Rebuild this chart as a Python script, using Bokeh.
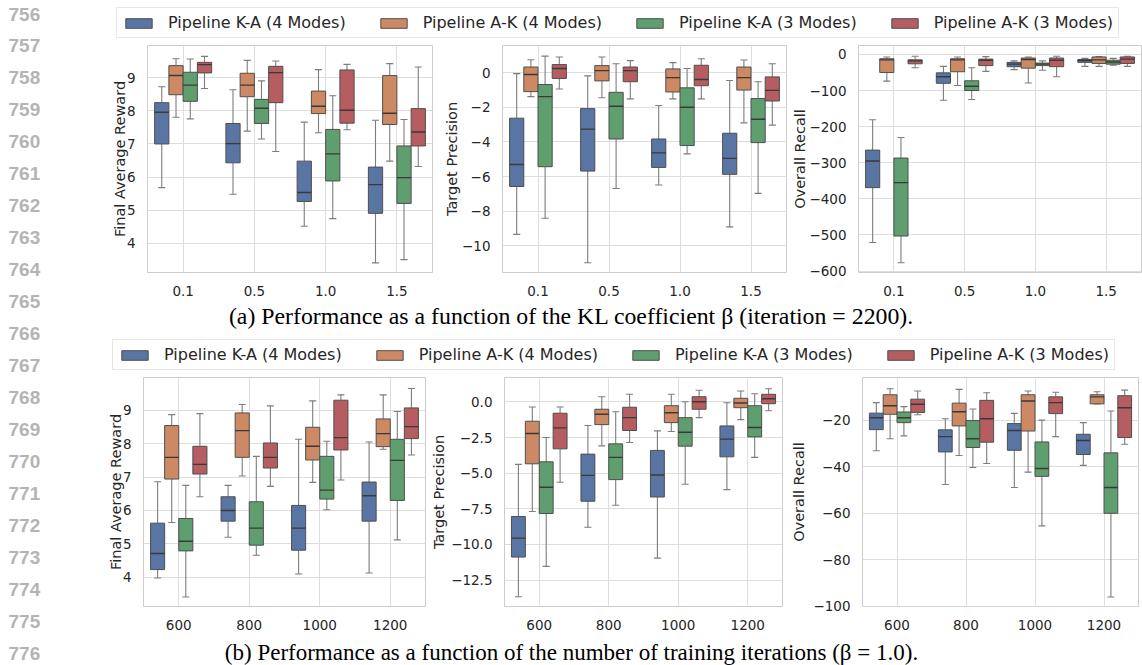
from bokeh.plotting import figure
from bokeh.models import Range1d, FixedTicker, Legend, LegendItem, ColumnDataSource
from bokeh.layouts import row, column
from bokeh.embed import file_html
from bokeh.resources import INLINE
from bokeh.core.properties import value

# ---------------- data ----------------
series = ["Pipeline K-A (4 Modes)", "Pipeline A-K (4 Modes)",
          "Pipeline K-A (3 Modes)", "Pipeline A-K (3 Modes)"]
colors = ["#5875A4", "#CC8963", "#5F9E6E", "#B55D60"]

beta_labels = ["0.1", "0.5", "1.0", "1.5"]
iter_labels = ["600", "800", "1000", "1200"]

# each group: [whisker_low, q1, median, q3, whisker_high]
# (a) Final Average Reward vs beta
rb_ka4 = [[5.68, 7.00, 7.96, 8.25, 8.73], [5.48, 6.43, 7.01, 7.62, 8.64], [4.51, 5.26, 5.53, 6.48, 7.66], [3.40, 4.90, 5.77, 6.30, 7.72]]
rb_ak4 = [[7.81, 8.49, 9.07, 9.37, 9.58], [7.39, 8.43, 8.78, 9.14, 9.53], [7.34, 7.92, 8.14, 8.60, 9.25], [6.48, 7.59, 7.93, 9.07, 9.43]]
rb_ka3 = [[7.76, 8.29, 8.78, 9.17, 9.57], [7.15, 7.62, 8.08, 8.35, 8.91], [4.74, 5.88, 6.70, 7.44, 8.46], [3.50, 5.20, 5.98, 6.94, 7.74]]
rb_ak3 = [[8.68, 9.15, 9.40, 9.47, 9.65], [6.77, 8.25, 9.16, 9.35, 9.51], [7.43, 7.63, 8.02, 9.24, 9.41], [6.32, 6.94, 7.36, 8.07, 9.33]]
# (a) Target Precision vs beta
pb_ka4 = [[-9.33, -6.57, -5.30, -2.63, -0.06], [-10.97, -5.68, -3.26, -2.08, -0.19], [-6.48, -5.47, -4.63, -3.83, -1.90], [-8.90, -5.87, -4.95, -3.50, -0.46]]
pb_ak4 = [[-1.39, -1.10, -0.11, 0.32, 0.74], [-1.45, -0.48, 0.11, 0.40, 0.90], [-1.52, -1.12, -0.29, 0.21, 0.57], [-2.90, -1.01, -0.29, 0.32, 0.72]]
pb_ka3 = [[-8.40, -5.43, -1.39, -0.69, 0.95], [-6.69, -3.83, -1.94, -1.14, 0.51], [-4.69, -4.21, -2.00, -0.88, 0.23], [-6.97, -4.04, -2.69, -1.50, -0.53]]
pb_ak3 = [[-0.95, -0.34, 0.23, 0.46, 0.90], [-1.52, -0.53, 0.11, 0.32, 0.69], [-1.52, -0.76, -0.40, 0.42, 0.80], [-3.03, -1.64, -1.03, -0.25, 0.51]]
# (a) Overall Recall vs beta
cb_ka4 = [[-521, -369, -295, -265, -181], [-127, -80, -62, -51, -33], [-42, -34, -27, -22, -18], [-33, -22, -17, -14, -11]]
cb_ak4 = [[-74, -50, -15, -12, -7], [-86, -48, -15, -12, -7], [-79, -38, -14, -10, -7], [-33, -25, -15, -7, -6]]
cb_ka3 = [[-577, -503, -355, -287, -230], [-125, -100, -88, -73, -37], [-44, -31, -27, -24, -18], [-30, -27, -21, -16, -11]]
cb_ak3 = [[-37, -26, -18, -15, -5], [-47, -31, -16, -13, -6], [-62, -34, -16, -10, -5], [-33, -25, -13, -7, -5]]

# (b) Final Average Reward vs iterations
ri_ka4 = [[3.98, 4.23, 4.71, 5.62, 6.86], [5.20, 5.68, 6.00, 6.41, 6.75], [4.10, 4.81, 5.47, 6.15, 8.13], [4.13, 5.68, 6.44, 6.85, 8.05]]
ri_ak4 = [[5.64, 6.94, 7.59, 8.54, 8.87], [7.03, 7.59, 8.39, 8.92, 9.17], [6.84, 7.51, 7.92, 8.49, 9.28], [7.83, 7.91, 8.30, 8.74, 9.46]]
ri_ka3 = [[3.41, 4.79, 5.08, 5.76, 6.75], [4.66, 4.96, 5.47, 6.26, 7.62], [6.02, 6.34, 6.61, 7.62, 8.07], [5.12, 6.30, 7.50, 8.13, 8.96]]
ri_ak3 = [[6.41, 7.09, 7.38, 7.92, 8.90], [6.72, 7.27, 7.59, 8.02, 9.13], [6.91, 7.81, 8.18, 9.30, 9.46], [7.66, 8.15, 8.51, 9.07, 9.65]]
# (b) Target Precision vs iterations
pi_ka4 = [[-13.68, -10.89, -9.56, -8.04, -4.38], [-8.79, -6.97, -5.15, -3.66, -1.65], [-10.96, -6.67, -5.13, -3.40, -2.03], [-6.15, -3.85, -2.61, -1.68, -0.05]]
pi_ak4 = [[-7.69, -4.34, -2.21, -1.35, -0.35], [-3.08, -1.59, -0.86, -0.51, 0.37], [-2.07, -1.45, -0.75, -0.26, 0.54], [-1.24, -0.40, -0.07, 0.26, 0.77]]
pi_ka3 = [[-11.54, -7.83, -5.99, -4.20, -2.49], [-7.25, -5.45, -3.89, -2.94, -0.68], [-5.78, -3.10, -2.12, -1.10, 0.02], [-3.89, -2.45, -1.79, -0.26, 0.58]]
pi_ak3 = [[-5.64, -3.29, -1.82, -0.79, -0.35], [-2.84, -2.00, -1.10, -0.37, 0.54], [-1.10, -0.51, 0.02, 0.37, 0.82], [-0.61, -0.12, 0.23, 0.54, 0.93]]
# (b) Overall Recall vs iterations
ci_ka4 = [[-33.1, -24.0, -18.9, -16.9, -12.4], [-47.6, -33.6, -27.0, -24.1, -19.3], [-48.9, -32.9, -24.4, -21.4, -17.0], [-39.4, -34.7, -28.7, -26.0, -21.0]]
ci_ak4 = [[-27.9, -17.4, -13.7, -9.0, -6.4], [-35.1, -22.4, -16.3, -12.6, -6.7], [-42.3, -24.6, -11.7, -9.0, -7.4], [-13.0, -12.9, -9.9, -9.0, -7.7]]
ci_ka3 = [[-26.7, -21.0, -18.9, -16.4, -14.1], [-40.3, -31.7, -27.9, -20.1, -15.1], [-65.4, -44.1, -40.7, -29.3, -19.9], [-96.0, -60.0, -48.9, -34.0, -16.0]]
ci_ak3 = [[-17.6, -16.6, -13.1, -10.9, -7.4], [-38.6, -29.4, -19.3, -11.4, -8.1], [-27.0, -17.1, -12.4, -9.9, -7.9], [-30.3, -27.4, -14.6, -9.4, -7.0]]

reward_ticks = [4, 5, 6, 7, 8, 9]
reward_tick_labels = ["4", "5", "6", "7", "8", "9"]
prec_beta_ticks = [-10, -8, -6, -4, -2, 0]
prec_beta_tick_labels = ["\u221210", "\u22128", "\u22126", "\u22124", "\u22122", "0"]
recall_beta_ticks = [-600, -500, -400, -300, -200, -100, 0]
recall_beta_tick_labels = ["\u2212600", "\u2212500", "\u2212400", "\u2212300", "\u2212200", "\u2212100", "0"]
prec_iter_ticks = [-12.5, -10.0, -7.5, -5.0, -2.5, 0.0]
prec_iter_tick_labels = ["\u221212.5", "\u221210.0", "\u22127.5", "\u22125.0", "\u22122.5", "0.0"]
recall_iter_ticks = [-100, -80, -60, -40, -20]
recall_iter_tick_labels = ["\u2212100", "\u221280", "\u221260", "\u221240", "\u221220"]

line_numbers = list(range(756, 777))
caption_a = "(a) Performance as a function of the KL coefficient \u03b2 (iteration = 2200)."
caption_b = "(b) Performance as a function of the number of training iterations (\u03b2 = 1.0)."

# ---------------- style ----------------
FONT = "DejaVu Sans"
TXT = "#262626"
EDGE = "#4f4f4f"
WHISK = "#7d7d7d"
GRID = "#dedede"
OFFSETS = [-0.3, -0.1, 0.1, 0.3]
BOXW = 0.2
CAPW = 0.05
LEFT = 100  # width of the line-number margin


def panel(stats_all, xlabels, yr, yticks, ylabels, ylabel, width, height, ml, mr, mt, mb, lab_off):
    p = figure(width=width, height=height, x_range=Range1d(-0.5, 3.5), y_range=Range1d(*yr),
               output_backend="svg", toolbar_location=None,
               min_border_left=ml, min_border_right=mr, min_border_top=mt, min_border_bottom=mb)
    for si, stats in enumerate(stats_all):
        xs = [gi + OFFSETS[si] for gi in range(len(stats))]
        src = ColumnDataSource(dict(
            x=xs,
            lo=[s[0] for s in stats], q1=[s[1] for s in stats], med=[s[2] for s in stats],
            q3=[s[3] for s in stats], hi=[s[4] for s in stats],
            xl=[x - BOXW / 2 for x in xs], xr=[x + BOXW / 2 for x in xs],
            cl=[x - CAPW for x in xs], cr=[x + CAPW for x in xs]))
        p.segment(x0="x", y0="lo", x1="x", y1="q1", source=src, line_color=WHISK, line_width=1.1)
        p.segment(x0="x", y0="q3", x1="x", y1="hi", source=src, line_color=WHISK, line_width=1.1)
        p.segment(x0="cl", y0="lo", x1="cr", y1="lo", source=src, line_color=WHISK, line_width=1.1)
        p.segment(x0="cl", y0="hi", x1="cr", y1="hi", source=src, line_color=WHISK, line_width=1.1)
        p.vbar(x="x", width=BOXW, bottom="q1", top="q3", source=src,
               fill_color=colors[si], line_color=EDGE, line_width=1)
        p.segment(x0="xl", y0="med", x1="xr", y1="med", source=src, line_color="#3a3a3a", line_width=1.4)

    p.xaxis.ticker = FixedTicker(ticks=list(range(len(xlabels))))
    p.xaxis.major_label_overrides = {i: lab for i, lab in enumerate(xlabels)}
    p.yaxis.ticker = FixedTicker(ticks=yticks)
    p.yaxis.major_label_overrides = {t: l for t, l in zip(yticks, ylabels)}
    p.xgrid.ticker = FixedTicker(ticks=list(range(len(xlabels))))
    p.ygrid.ticker = FixedTicker(ticks=yticks)
    p.grid.grid_line_color = GRID
    p.grid.grid_line_width = 1
    p.outline_line_color = "#cccccc"
    p.outline_line_width = 1
    for ax in p.axis:
        ax.axis_line_color = None
        ax.major_tick_line_color = None
        ax.minor_tick_line_color = None
        ax.major_label_text_font = FONT
        ax.major_label_text_font_size = "13.5px"
        ax.major_label_text_color = TXT
    p.xaxis.major_label_standoff = 7
    p.yaxis.major_label_standoff = 6
    p.yaxis.axis_label = ylabel
    p.yaxis.axis_label_text_font = FONT
    p.yaxis.axis_label_text_font_size = "14.5px"
    p.yaxis.axis_label_text_font_style = "normal"
    p.yaxis.axis_label_text_color = TXT
    p.yaxis.axis_label_standoff = lab_off
    return p


def legend_fig(height, loc):
    f = figure(width=1142 - LEFT, height=height, x_range=Range1d(0, 1), y_range=Range1d(0, 1),
               x_axis_location=None, y_axis_location=None, min_border=0,
               output_backend="svg", toolbar_location=None)
    f.outline_line_color = None
    f.grid.visible = False
    # one point outside the visible range so that the legend swatches get drawn
    rs = [f.vbar(x=[-5], top=[-5], bottom=[-6], width=0.2, fill_color=c, line_color=EDGE, line_width=1)
          for c in colors]
    leg = Legend(items=[LegendItem(label=s, renderers=[r]) for s, r in zip(series, rs)],
                 orientation="horizontal", location=loc, margin=0, padding=5,
                 glyph_width=33, glyph_height=12, label_standoff=13, spacing=31,
                 label_height=16, label_text_font=FONT, label_text_font_size="16px",
                 label_text_color=TXT, border_line_color="#d0d0d0", border_line_width=1,
                 background_fill_color="white", background_fill_alpha=1)
    f.add_layout(leg)
    return f


def caption_fig(height, text, ty, size):
    f = figure(width=1142 - LEFT, height=height, x_range=Range1d(LEFT, 1142), y_range=Range1d(height, 0),
               x_axis_location=None, y_axis_location=None, min_border=0,
               output_backend="svg", toolbar_location=None)
    f.outline_line_color = None
    f.grid.visible = False
    f.text(x=[571], y=[ty], text=[text], text_font=value("Liberation Serif"),
           text_font_size=size, text_color="black", text_align="center", text_baseline="middle")
    return f


# line-number margin
nf = figure(width=LEFT, height=665, x_range=Range1d(0, LEFT), y_range=Range1d(665, 0),
            x_axis_location=None, y_axis_location=None, min_border=0,
            output_backend="svg", toolbar_location=None)
nf.outline_line_color = None
nf.grid.visible = False
nf.text(x=[8] * len(line_numbers), y=[13.5 + 31.95 * i for i in range(len(line_numbers))],
        text=[str(n) for n in line_numbers], text_font=value("Liberation Sans"),
        text_font_style="bold", text_font_size="19px", text_color="#b4b4b4",
        text_baseline="middle", text_align="left")

p1 = panel([rb_ka4, rb_ak4, rb_ka3, rb_ak3], beta_labels, (3.11, 9.98), reward_ticks, reward_tick_labels,
           "Final Average Reward", 336, 256, 47, 4, 3, 24, -4)
p2 = panel([pb_ka4, pb_ak4, pb_ka3, pb_ak3], beta_labels, (-11.53, 1.56), prec_beta_ticks, prec_beta_tick_labels,
           "Target Precision", 353, 256, 66, 3, 3, 24, -1)
p3 = panel([cb_ka4, cb_ak4, cb_ka3, cb_ak3], beta_labels, (-604, 24.7), recall_beta_ticks, recall_beta_tick_labels,
           "Overall Recall", 353, 256, 67, 1, 3, 24, -2)
p4 = panel([ri_ka4, ri_ak4, ri_ka3, ri_ak3], iter_labels, (3.125, 9.98), reward_ticks, reward_tick_labels,
           "Final Average Reward", 328, 258, 43, 3, 3, 25, -4)
p5 = panel([pi_ka4, pi_ak4, pi_ka3, pi_ak3], iter_labels, (-14.36, 1.72), prec_iter_ticks, prec_iter_tick_labels,
           "Target Precision", 360, 258, 71, 6, 3, 25, 1)
p6 = panel([ci_ka4, ci_ak4, ci_ka3, ci_ak3], iter_labels, (-100.1, -1.57), recall_iter_ticks, recall_iter_tick_labels,
           "Overall Recall", 354, 258, 68, 4, 3, 25, 3)

leg_a = legend_fig(42, (16, 4))
leg_b = legend_fig(39, (12, 4))
cap_a = caption_fig(37, caption_a, 17, "23.8px")
cap_b = caption_fig(33, caption_b, 20, "23px")

right = column(leg_a, row(p1, p2, p3), cap_a, leg_b, row(p4, p5, p6), cap_b)
page = row(nf, right)

open("out.html", "w").write(file_html(page, INLINE))
